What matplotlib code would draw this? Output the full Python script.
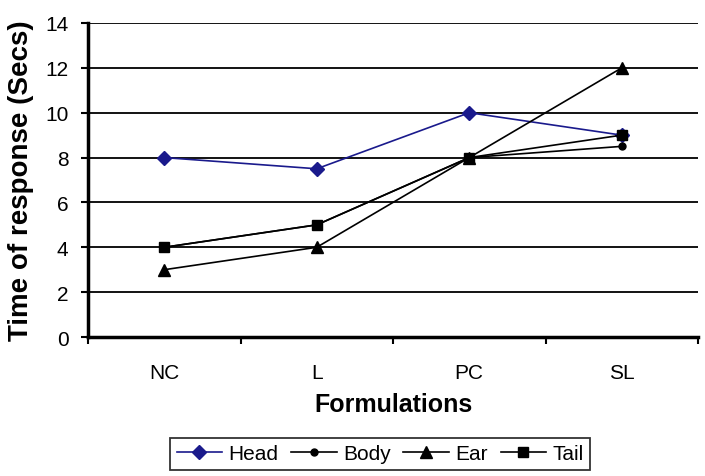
import matplotlib
matplotlib.use("Agg")
import matplotlib.pyplot as plt
import numpy as np

plt.rcParams['font.family'] = ['Liberation Sans', 'DejaVu Sans']

categories = ["NC", "L", "PC", "SL"]
head = [8, 7.5, 10, 9]
body = [4, 5, 8, 8.5]
ear = [3, 4, 8, 12]
tail = [4, 5, 8, 9]

fig = plt.figure(figsize=(7.05, 4.77), dpi=100)
L, R, T, B = 88, 698, 24, 338
ax = fig.add_axes([L / 705, 1 - B / 477, (R - L) / 705, (B - T) / 477])

x = np.arange(len(categories))
ax.plot(x, head, color='#1a1a8c', marker='D', markersize=7, lw=1.2, label='Head', zorder=3)
ax.plot(x, body, color='black', marker='o', markersize=5, lw=1.2, label='Body', zorder=4)
ax.plot(x, ear, color='black', marker='^', markersize=8, lw=1.2, label='Ear', zorder=5)
ax.plot(x, tail, color='black', marker='s', markersize=7, lw=1.2, label='Tail', zorder=6)

ax.set_xlim(-0.5, len(categories) - 0.5)
ax.set_ylim(0, 14)
ax.set_yticks(np.arange(0, 15, 2))
ax.set_xticks(x)
ax.set_xticklabels(categories)
ax.set_xticks(np.arange(-0.5, len(categories) + 0.5, 1), minor=True)
ax.tick_params(axis='x', which='major', length=0, labelsize=15, pad=19)
ax.tick_params(axis='x', which='minor', length=5, width=1.5, direction='out')
ax.tick_params(axis='y', length=5, width=1.5, labelsize=15, direction='out', pad=9)
ax.yaxis.grid(True, color='black', lw=1.3)
ax.set_axisbelow(True)
for s in ['top', 'right']:
    ax.spines[s].set_visible(False)
ax.spines['left'].set_linewidth(2.5)
ax.spines['bottom'].set_linewidth(2.5)

ax.set_xlabel('Formulations', fontsize=18, fontweight='bold', labelpad=7)
ax.set_ylabel('Time of response (Secs)', fontsize=20, fontweight='bold', labelpad=8)

leg = ax.legend(loc='upper center', bbox_to_anchor=(0.479, -0.322), ncol=4,
                frameon=True, fancybox=False, edgecolor='black', fontsize=15,
                handlelength=2.2, handletextpad=0.3, columnspacing=0.6,
                borderpad=0.3, borderaxespad=0)
leg.get_frame().set_linewidth(1.3)

fig.savefig('out.png', dpi=100)
